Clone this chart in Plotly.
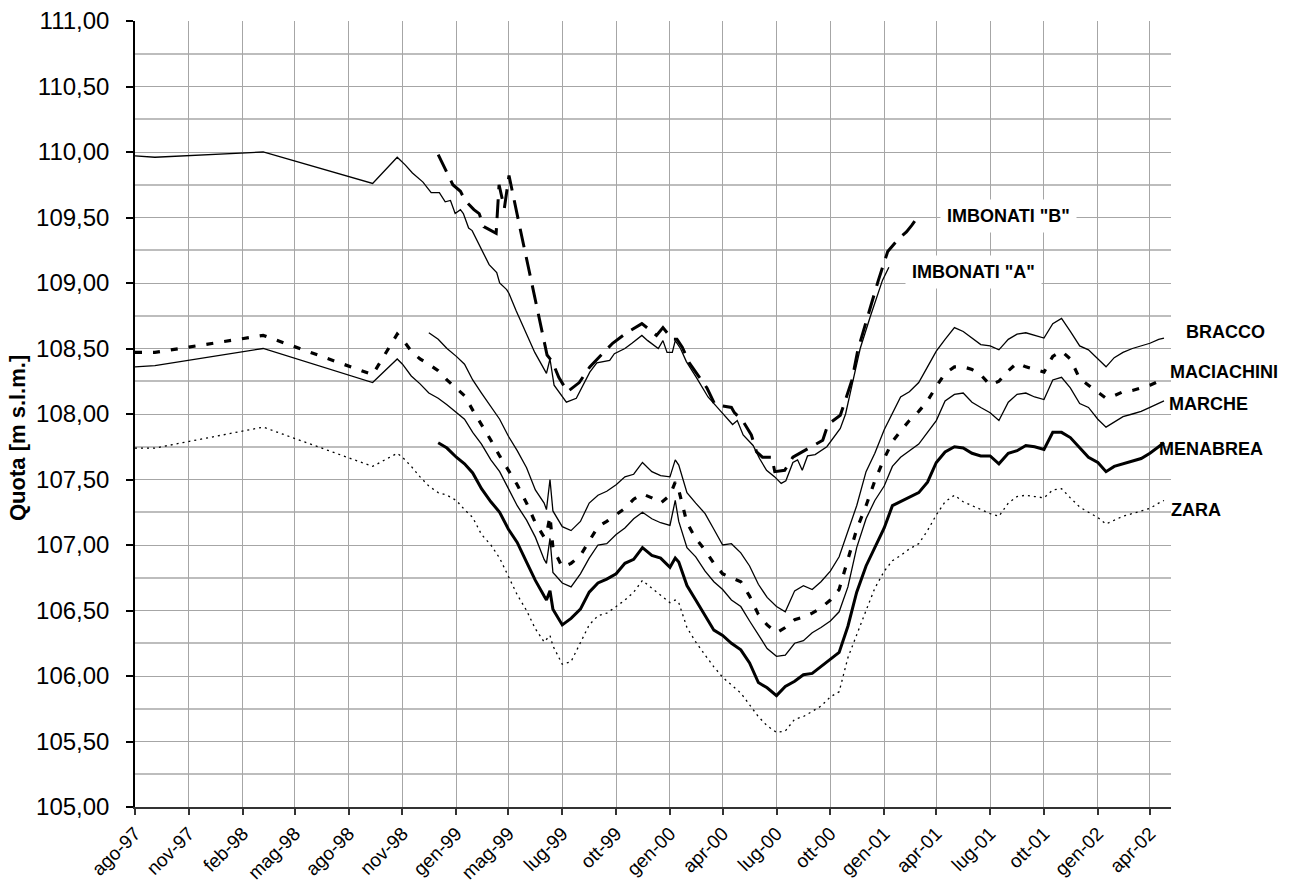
import plotly.graph_objects as go

# ---------------------------------------------------------------- axis ticks
tick_dates = ["1997-08-01", "1997-11-01", "1998-02-01", "1998-05-01", "1998-08-01",
              "1998-11-01", "1999-02-01", "1999-05-01", "1999-08-01", "1999-11-01",
              "2000-02-01", "2000-05-01", "2000-08-01", "2000-11-01", "2001-02-01",
              "2001-05-01", "2001-08-01", "2001-11-01", "2002-02-01", "2002-05-01"]
tick_labels = ["ago-97", "nov-97", "feb-98", "mag-98", "ago-98", "nov-98", "gen-99",
               "mag-99", "lug-99", "ott-99", "gen-00", "apr-00", "lug-00", "ott-00",
               "gen-01", "apr-01", "lug-01", "ott-01", "gen-02", "apr-02"]

# ---------------------------------------------------------------- survey dates
# sparse readings 1997-1998
dates_early = ["1997-08-01", "1997-09-04", "1998-03-08", "1998-09-11", "1998-10-23"]

# fortnightly readings from November 1998
dates_dense = [
    "1998-11-01", "1998-11-16", "1998-12-01", "1998-12-16",
    "1999-01-01", "1999-01-16", "1999-02-01", "1999-02-15", "1999-03-01", "1999-03-16",
    "1999-04-01", "1999-04-16", "1999-05-01", "1999-05-16", "1999-06-01", "1999-06-16",
    "1999-07-01", "1999-07-05", "1999-07-11", "1999-07-16", "1999-08-01", "1999-08-16",
    "1999-09-01", "1999-09-16", "1999-10-01", "1999-10-16", "1999-11-01", "1999-11-16",
    "1999-12-01", "1999-12-16",
    "2000-01-01", "2000-01-16", "2000-02-01", "2000-02-10", "2000-02-16", "2000-03-01",
    "2000-03-16", "2000-04-01", "2000-04-16", "2000-05-01", "2000-05-16", "2000-06-01",
    "2000-06-16", "2000-07-01", "2000-07-16", "2000-08-01", "2000-08-16", "2000-09-01",
    "2000-09-16", "2000-10-01", "2000-10-16", "2000-11-01", "2000-11-16", "2000-12-01",
    "2000-12-16",
    "2001-01-01", "2001-01-16", "2001-02-01", "2001-02-15", "2001-03-01", "2001-03-16",
    "2001-04-01", "2001-04-16", "2001-05-01", "2001-05-16", "2001-06-01", "2001-06-16",
    "2001-07-01", "2001-07-16", "2001-08-01", "2001-08-16", "2001-09-01", "2001-09-16",
    "2001-10-01", "2001-10-16", "2001-11-01", "2001-11-16", "2001-12-01", "2001-12-16",
    "2002-01-01", "2002-01-16", "2002-02-01", "2002-02-15", "2002-03-01", "2002-03-16",
    "2002-04-01", "2002-04-16", "2002-05-01", "2002-05-16", "2002-05-25"]

# ---------------------------------------------------------------- water levels [m s.l.m.]
marche_early = [108.36, 108.37, 108.50, 108.24, 108.42]
marche_dense = (
    [108.38, 108.29, 108.23, 108.16]
    + [108.12, 108.07, 108.01, 107.96, 107.86, 107.77, 107.65, 107.56, 107.43, 107.30,
       107.19, 107.06, 106.89, 106.86, 107.05, 106.79, 106.71, 106.68, 106.78, 106.90,
       107.00, 107.01, 107.08, 107.13, 107.20, 107.25]
    + [107.20, 107.17, 107.15, 107.34, 107.18, 106.98, 106.91, 106.80, 106.72, 106.66,
       106.58, 106.53, 106.42, 106.32, 106.21, 106.15, 106.16, 106.25, 106.27, 106.33,
       106.37, 106.42, 106.49, 106.68, 106.98]
    + [107.20, 107.34, 107.45, 107.60, 107.67, 107.72, 107.77, 107.86, 107.95, 108.10,
       108.15, 108.16, 108.09, 108.05, 108.01, 107.95, 108.09, 108.15, 108.16, 108.13,
       108.11, 108.26, 108.28, 108.20]
    + [108.08, 108.05, 107.96, 107.90, 107.94, 107.98, 108.00, 108.02, 108.05, 108.08,
       108.10])

maciachini_early = [108.47, 108.47, 108.60, 108.30, 108.61]
maciachini_dense = (
    [108.57, 108.48, 108.42, 108.38]
    + [108.33, 108.26, 108.20, 108.14, 108.03, 107.92, 107.80, 107.68, 107.57, 107.46,
       107.32, 107.17, 107.06, 107.08, 107.22, 106.98, 106.83, 106.86, 106.92, 107.03,
       107.14, 107.18, 107.23, 107.28, 107.35, 107.39]
    + [107.36, 107.32, 107.38, 107.48, 107.42, 107.17, 107.05, 106.96, 106.86, 106.78,
       106.75, 106.72, 106.61, 106.47, 106.39, 106.33, 106.37, 106.43, 106.45, 106.48,
       106.52, 106.58, 106.66, 106.89, 107.12]
    + [107.30, 107.49, 107.66, 107.79, 107.87, 107.95, 108.02, 108.10, 108.21, 108.31,
       108.36, 108.36, 108.34, 108.30, 108.22, 108.25, 108.33, 108.39, 108.36, 108.34,
       108.32, 108.44, 108.48, 108.42]
    + [108.27, 108.22, 108.17, 108.12, 108.14, 108.17, 108.18, 108.20, 108.22, 108.25,
       108.27])

zara_early = [107.74, 107.74, 107.90, 107.60, 107.70]
zara_dense = (
    [107.67, 107.60, 107.52, 107.45]
    + [107.40, 107.38, 107.34, 107.27, 107.21, 107.08, 107.00, 106.90, 106.76, 106.62,
       106.50, 106.36, 106.26, 106.28, 106.31, 106.23, 106.09, 106.11, 106.25, 106.39,
       106.46, 106.48, 106.53, 106.58, 106.64, 106.73]
    + [106.67, 106.62, 106.56, 106.58, 106.56, 106.37, 106.26, 106.16, 106.07, 105.99,
       105.93, 105.87, 105.78, 105.69, 105.62, 105.57, 105.58, 105.67, 105.69, 105.73,
       105.77, 105.84, 105.88, 106.14, 106.32]
    + [106.50, 106.67, 106.80, 106.88, 106.92, 106.97, 107.01, 107.11, 107.23, 107.33,
       107.38, 107.33, 107.30, 107.27, 107.24, 107.22, 107.32, 107.37, 107.38, 107.37,
       107.36, 107.42, 107.43, 107.36]
    + [107.29, 107.25, 107.21, 107.16, 107.19, 107.22, 107.24, 107.26, 107.28, 107.32,
       107.34])

# BRACCO starts on 1998-12-16
bracco_dense = (
    [108.62]
    + [108.57, 108.50, 108.44, 108.38, 108.26, 108.16, 108.06, 107.96, 107.83, 107.72,
       107.59, 107.42, 107.32, 107.27, 107.50, 107.26, 107.14, 107.11, 107.18, 107.32,
       107.38, 107.41, 107.46, 107.52, 107.54, 107.63]
    + [107.56, 107.53, 107.52, 107.65, 107.61, 107.40, 107.32, 107.24, 107.12, 107.00,
       107.01, 106.94, 106.84, 106.70, 106.60, 106.53, 106.49, 106.65, 106.69, 106.66,
       106.72, 106.80, 106.91, 107.10, 107.30]
    + [107.56, 107.70, 107.88, 108.00, 108.13, 108.17, 108.24, 108.36, 108.48, 108.57,
       108.66, 108.63, 108.58, 108.53, 108.52, 108.49, 108.57, 108.61, 108.62, 108.60,
       108.58, 108.69, 108.73, 108.63]
    + [108.52, 108.49, 108.42, 108.36, 108.43, 108.47, 108.50, 108.52, 108.54, 108.57,
       108.58])

# MENABREA starts on 1999-01-01
menabrea_dense = (
    [107.78, 107.74, 107.67, 107.62, 107.55, 107.43, 107.33, 107.25, 107.12, 107.02,
     106.87, 106.73, 106.61, 106.58, 106.65, 106.51, 106.39, 106.44, 106.51, 106.64,
     106.71, 106.74, 106.78, 106.86, 106.89, 106.98]
    + [106.92, 106.90, 106.83, 106.90, 106.87, 106.69, 106.58, 106.46, 106.35, 106.31,
       106.25, 106.20, 106.10, 105.95, 105.91, 105.85, 105.92, 105.96, 106.01, 106.02,
       106.07, 106.13, 106.18, 106.38, 106.64]
    + [106.84, 106.98, 107.13, 107.30, 107.33, 107.36, 107.40, 107.48, 107.63, 107.71,
       107.75, 107.74, 107.70, 107.68, 107.68, 107.62, 107.70, 107.72, 107.76, 107.75,
       107.73, 107.86, 107.86, 107.82]
    + [107.74, 107.67, 107.63, 107.56, 107.60, 107.62, 107.64, 107.66, 107.70, 107.75,
       107.78])

# IMBONATI "A"
imbonati_a_dates = dates_early + [
    "1998-11-06", "1998-11-18", "1998-12-06", "1998-12-20",
    "1999-01-03", "1999-01-13", "1999-01-22", "1999-01-30", "1999-02-08", "1999-02-13",
    "1999-02-22", "1999-02-28", "1999-03-12", "1999-03-29", "1999-04-11", "1999-04-16",
    "1999-04-28", "1999-05-02", "1999-05-14", "1999-05-31", "1999-06-15", "1999-07-05",
    "1999-07-11", "1999-07-18", "1999-08-08", "1999-08-25", "1999-09-05", "1999-09-17",
    "1999-09-29", "1999-10-21", "1999-10-29", "1999-11-16", "1999-11-28", "1999-12-15",
    "1999-12-25",
    "2000-01-12", "2000-01-20", "2000-01-27", "2000-02-05", "2000-02-10", "2000-02-19",
    "2000-02-29", "2000-03-17", "2000-04-06", "2000-04-26", "2000-05-18", "2000-05-26",
    "2000-06-05", "2000-06-22", "2000-07-03", "2000-07-15", "2000-07-29", "2000-08-09",
    "2000-08-17", "2000-08-29", "2000-09-06", "2000-09-14", "2000-09-23", "2000-10-06",
    "2000-10-26", "2000-11-18", "2000-11-27", "2000-12-08", "2000-12-22",
    "2001-01-08", "2001-01-29", "2001-02-09"]
imbonati_a = (
    [109.97, 109.96, 110.00, 109.76, 109.96]
    + [109.90, 109.84, 109.77, 109.69]
    + [109.69, 109.62, 109.63, 109.53, 109.56, 109.53, 109.42, 109.40, 109.29, 109.14,
       109.08, 109.00, 108.95, 108.92, 108.79, 108.62, 108.47, 108.31, 108.42, 108.22,
       108.09, 108.12, 108.21, 108.32, 108.39, 108.41, 108.46, 108.50, 108.54, 108.60,
       108.56]
    + [108.50, 108.56, 108.47, 108.47, 108.56, 108.50, 108.40, 108.28, 108.13, 108.03,
       107.92, 107.95, 107.84, 107.76, 107.66, 107.57, 107.52, 107.47, 107.49, 107.63,
       107.65, 107.57, 107.68, 107.69, 107.75, 107.89, 108.00, 108.22, 108.50]
    + [108.74, 109.02, 109.12])

# IMBONATI "B"
imbonati_b_dates = [
    "1999-01-01", "1999-01-16", "1999-01-26", "1999-02-08", "1999-02-16", "1999-03-03",
    "1999-03-12", "1999-03-20", "1999-04-10", "1999-04-15", "1999-04-24", "1999-05-02",
    "1999-05-07", "1999-05-25", "1999-06-06", "1999-06-18", "1999-07-01", "1999-07-06",
    "1999-07-15", "1999-07-26", "1999-08-10", "1999-08-30", "1999-09-17", "1999-10-26",
    "1999-11-19", "1999-12-15",
    "2000-01-01", "2000-01-09", "2000-01-20", "2000-02-05", "2000-02-13", "2000-02-22",
    "2000-03-05", "2000-03-22", "2000-04-04", "2000-04-18", "2000-05-16", "2000-05-21",
    "2000-06-04", "2000-06-19", "2000-06-28", "2000-07-08", "2000-07-24", "2000-07-29",
    "2000-08-15", "2000-08-29", "2000-09-22", "2000-10-19", "2000-10-28", "2000-11-18",
    "2000-11-27", "2000-12-08", "2000-12-18",
    "2001-01-03", "2001-01-22", "2001-02-07", "2001-02-24", "2001-03-11", "2001-03-20",
    "2001-04-03"]
imbonati_b = (
    [109.98, 109.84, 109.75, 109.70, 109.63, 109.56, 109.53, 109.43, 109.38, 109.75,
     109.57, 109.82, 109.71, 109.33, 109.08, 108.82, 108.56, 108.45, 108.40, 108.28,
     108.17, 108.24, 108.36, 108.54, 108.62, 108.69]
    + [108.63, 108.60, 108.66, 108.57, 108.57, 108.51, 108.39, 108.28, 108.20, 108.07,
       108.05, 108.01, 107.95, 107.84, 107.71, 107.67, 107.67, 107.56, 107.57, 107.67,
       107.73, 107.80, 107.92, 107.99, 108.11, 108.26, 108.49]
    + [108.74, 109.02, 109.24, 109.33, 109.39, 109.44, 109.53])

series_names = ["IMBONATI \"B\"", "IMBONATI \"A\"", "BRACCO", "MACIACHINI",
                "MARCHE", "MENABREA", "ZARA"]
y_title = "Quota [m s.l.m.]"

# ---------------------------------------------------------------- traces
FONT = "Liberation Sans, Arial, Helvetica, sans-serif"
fig = go.Figure()


def add_line(x, y, name, width, dash="solid"):
    assert len(x) == len(y), name
    fig.add_trace(go.Scatter(
        x=x, y=y, name=name, mode="lines",
        line=dict(color="black", width=width, dash=dash),
        showlegend=False, hoverinfo="x+y+name"))


add_line(dates_early + dates_dense, zara_early + zara_dense, "ZARA", 1.3, "2px,4px")
add_line(dates_early + dates_dense, marche_early + marche_dense, "MARCHE", 1.3)
add_line(dates_dense[3:], bracco_dense, "BRACCO", 1.3)
add_line(dates_early + dates_dense, maciachini_early + maciachini_dense,
         "MACIACHINI", 3.2, "7px,11px")
add_line(dates_dense[4:], menabrea_dense, "MENABREA", 3.0)
add_line(imbonati_a_dates, imbonati_a, "IMBONATI \"A\"", 1.3)
add_line(imbonati_b_dates, imbonati_b, "IMBONATI \"B\"", 3.0, "19px,10px")

# ---------------------------------------------------------------- series labels
label_spots = {
    "IMBONATI \"B\"": dict(x=0.8427, y=0.7519, xanchor="center"),
    "IMBONATI \"A\"": dict(x=0.8094, y=0.6807, xanchor="center"),
    "BRACCO": dict(x=1.0135, y=0.6043, xanchor="left"),
    "MACIACHINI": dict(x=0.9980, y=0.5534, xanchor="left"),
    "MARCHE": dict(x=0.9970, y=0.5127, xanchor="left"),
    "MENABREA": dict(x=0.9874, y=0.4555, xanchor="left"),
    "ZARA": dict(x=0.9990, y=0.3779, xanchor="left"),
}
for name in series_names:
    spot = label_spots[name]
    boxed = name.startswith("IMBONATI")
    fig.add_annotation(
        xref="paper", yref="paper", x=spot["x"], y=spot["y"],
        xanchor=spot["xanchor"], yanchor="middle", showarrow=False,
        text="<b>" + name + "</b>",
        font=dict(family=FONT, size=18, color="black"),
        bgcolor="white" if boxed else "rgba(0,0,0,0)",
        borderpad=6 if boxed else 0)

# vertical axis title
fig.add_annotation(
    xref="paper", yref="paper", x=-0.1129, y=0.4695,
    xanchor="center", yanchor="middle", showarrow=False, textangle=-90,
    text="<b>" + y_title + "</b>",
    font=dict(family=FONT, size=22, color="black"))

# ---------------------------------------------------------------- layout
fig.update_layout(
    width=1298, height=884,
    margin=dict(l=135, r=127, t=21, b=77, autoexpand=False),
    paper_bgcolor="white", plot_bgcolor="white",
    separators=",.",
    font=dict(family=FONT, color="black"),
    showlegend=False,
    xaxis=dict(
        type="date", range=["1997-08-01", "2002-06-06"],
        tickmode="array", tickvals=tick_dates, ticktext=tick_labels,
        tickangle=-45, tickfont=dict(family=FONT, size=19, color="black"),
        ticks="outside", ticklen=6, tickwidth=1.5, tickcolor="#333333",
        showgrid=True, gridcolor="#a6a6a6", gridwidth=1,
        showline=True, linecolor="#333333", linewidth=2,
        zeroline=False, automargin=False),
    yaxis=dict(
        range=[105, 111], tick0=105, dtick=0.5, tickformat=".2f",
        tickfont=dict(family=FONT, size=24, color="black"),
        ticks="outside", ticklen=7, tickwidth=1.5, tickcolor="black",
        ticklabelstandoff=12,
        showgrid=True, gridcolor="#a6a6a6", gridwidth=1,
        minor=dict(dtick=0.25, showgrid=True, gridcolor="#bdbdbd", gridwidth=1.5),
        showline=True, linecolor="black", linewidth=1.5,
        zeroline=False, automargin=False),
)

fig.write_html("out.html")
